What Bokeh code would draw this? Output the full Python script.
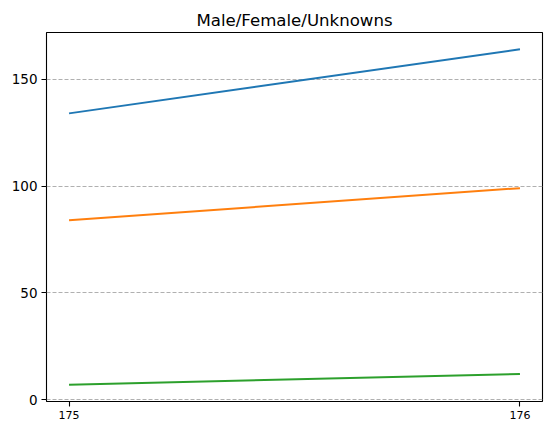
from bokeh.plotting import figure
from bokeh.models import FixedTicker, Range1d
from bokeh.embed import file_html
from bokeh.resources import INLINE

x_vals = [175, 176]
male = [134, 164]
female = [84, 99]
unknown = [7, 12]
y_ticks = [0, 50, 100, 150]
colors = ["#1f77b4", "#ff7f0e", "#2ca02c"]

p = figure(width=548, height=423, output_backend="svg", toolbar_location=None,
           x_range=Range1d(174.95, 176.05), y_range=Range1d(-0.85, 171.85),
           title="Male/Female/Unknowns",
           min_border_left=46, min_border_right=6, min_border_top=32, min_border_bottom=22)

for ys, c in zip([male, female, unknown], colors):
    p.line(x_vals, ys, line_color=c, line_width=2.0)

p.title.align = "center"
p.title.text_font = "DejaVu Sans"
p.title.text_font_size = "16.6px"
p.title.text_font_style = "normal"
p.title.text_color = "black"
p.title.standoff = 6

p.outline_line_color = "black"
p.outline_line_width = 1.1
p.outline_line_alpha = 1
p.background_fill_color = "white"
p.border_fill_color = "white"

p.xgrid.visible = False
p.ygrid.grid_line_color = "#b0b0b0"
p.ygrid.grid_line_dash = "4 2"
p.ygrid.grid_line_width = 1

p.xaxis.ticker = FixedTicker(ticks=x_vals)
p.yaxis.ticker = FixedTicker(ticks=y_ticks)
for ax in (p.xaxis, p.yaxis):
    ax.axis_line_color = None
    ax.major_tick_line_color = "black"
    ax.major_tick_line_width = 1.1
    ax.major_tick_out = 5
    ax.major_tick_in = 0
    ax.minor_tick_line_color = None
    ax.major_label_text_font = "DejaVu Sans"
    ax.major_label_text_color = "black"
    ax.major_label_standoff = 4
p.yaxis.major_label_text_font_size = "13.5px"
p.xaxis.major_label_text_font_size = "11px"

open("out.html", "w").write(file_html(p, INLINE))
